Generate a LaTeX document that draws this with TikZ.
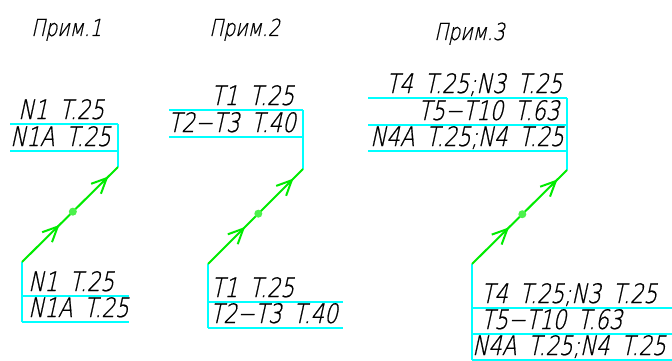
\documentclass[tikz,border=0pt]{standalone}
\usepackage{fontspec}
\setmainfont{DejaVu Sans ExtraLight}[FakeSlant=0.22, FakeStretch=0.8, FakeBold=0.7]
\usetikzlibrary{arrows.meta,decorations.markings}
\definecolor{cian}{RGB}{0,255,255}
\definecolor{verde}{RGB}{0,235,0}
\newcommand{\letra}{\fontsize{26.8}{30}\selectfont}
\newcommand{\letratit}{\fontsize{23.5}{26}\selectfont}
\newcommand{\hueco}{\hspace{11.5pt}}
\tikzstyle{renglon} = [draw=cian, line width=1.4pt]
\tikzstyle{rotulo} = [inner sep=0pt, anchor=base west, font=\letra]
\tikzstyle{titulo} = [inner sep=0pt, anchor=base west, font=\letratit]
\tikzstyle{flecha} = [draw=verde, line width=2pt, postaction={decorate},
	decoration={markings,
		mark=at position 0.39 with {\arrow{Straight Barb[length=15pt, width=14pt]}},
		mark=at position 0.53 with {\fill[verde!70] (0,0) circle (4pt);},
		mark=at position 0.90 with {\arrow{Straight Barb[length=15pt, width=14pt]}}}]

\begin{document}
\begin{tikzpicture}[x=1pt, y=-1pt]
	\useasboundingbox (0,0) rectangle (672,361);
	\node[titulo] (tit1) at (31,36) {Прим.1};
	\node[titulo] (tit2) at (209,36) {Прим.2};
	\node[titulo] (tit3) at (434,40) {Прим.3};

	\coordinate (ia) at (10,124);
	\coordinate (ib) at (118,124);
	\coordinate (ic) at (10,151);
	\coordinate (id) at (118,151);
	\coordinate (ie) at (118,167);
	\coordinate (if) at (22,262);
	\coordinate (ig) at (22,296);
	\coordinate (ih) at (129,296);
	\coordinate (ii) at (22,322);
	\coordinate (ij) at (129,322);
	\draw[renglon] (ia) -- (ib) (ic) -- (id) (ib) -- (ie);
	\draw[renglon] (if) -- (ii) (ig) -- (ih) (ii) -- (ij);
	\draw[flecha] (if) -- (ie);
	\node[rotulo] (n1sup) at (18,119) {N1\hueco T.25};
	\node[rotulo] (n1asup) at (10,146) {N1A\hueco T.25};
	\node[rotulo] (n1inf) at (28,291) {N1\hueco T.25};
	\node[rotulo] (n1ainf) at (28,317) {N1A\hueco T.25};

	\coordinate (iia) at (169,110);
	\coordinate (iib) at (303,110);
	\coordinate (iic) at (169,137);
	\coordinate (iid) at (303,137);
	\coordinate (iie) at (303,169);
	\coordinate (iif) at (208,264);
	\coordinate (iig) at (208,302);
	\coordinate (iih) at (343,302);
	\coordinate (iii) at (208,328);
	\coordinate (iij) at (343,328);
	\draw[renglon] (iia) -- (iib) (iic) -- (iid) (iib) -- (iie);
	\draw[renglon] (iif) -- (iii) (iig) -- (iih) (iii) -- (iij);
	\draw[flecha] (iif) -- (iie);
	\node[rotulo] (t1sup) at (211,105) {T1\hueco T.25};
	\node[rotulo] (t23sup) at (168,132) {T2−T3\hueco T.40};
	\node[rotulo] (t1inf) at (211,297) {T1\hueco T.25};
	\node[rotulo] (t23inf) at (210,323) {T2−T3\hueco T.40};

	\coordinate (iiia) at (368,98);
	\coordinate (iiib) at (567,98);
	\coordinate (iiic) at (368,125);
	\coordinate (iiid) at (567,125);
	\coordinate (iiie) at (368,151);
	\coordinate (iiif) at (567,151);
	\coordinate (iiig) at (567,170);
	\coordinate (iiih) at (472,264);
	\coordinate (iiii) at (472,308);
	\coordinate (iiij) at (672,308);
	\coordinate (iiik) at (472,334);
	\coordinate (iiil) at (672,334);
	\coordinate (iiim) at (472,360);
	\coordinate (iiin) at (672,360);
	\draw[renglon] (iiia) -- (iiib) (iiic) -- (iiid) (iiie) -- (iiif) (iiib) -- (iiig);
	\draw[renglon] (iiih) -- (iiim) (iiii) -- (iiij) (iiik) -- (iiil) (iiim) -- (iiin);
	\draw[flecha] (iiih) -- (iiig);
	\node[rotulo] (t4sup) at (386,93) {T4\hueco T.25;N3\hueco T.25};
	\node[rotulo] (t510sup) at (418,120) {T5−T10\hueco T.63};
	\node[rotulo] (n4asup) at (370,146) {N4A\hueco T.25;N4\hueco T.25};
	\node[rotulo] (t4inf) at (481,303) {T4\hueco T.25;N3\hueco T.25};
	\node[rotulo] (t510inf) at (481,329) {T5−T10\hueco T.63};
	\node[rotulo] (n4ainf) at (472,355) {N4A\hueco T.25;N4\hueco T.25};
\end{tikzpicture}
\end{document}
